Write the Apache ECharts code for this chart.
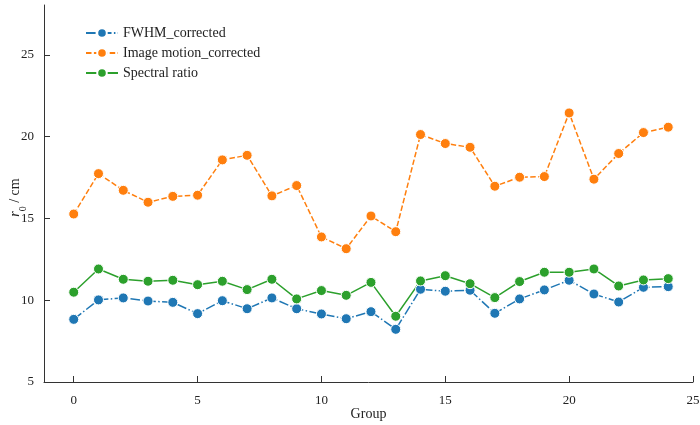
<!DOCTYPE html>
<html><head><meta charset="utf-8">
<script src="https://cdn.jsdelivr.net/npm/echarts@6/dist/echarts.min.js"></script>
<style>html,body{margin:0;padding:0;background:#fff}#c{width:700px;height:425px}</style>
</head><body><div id="c"></div>
<script>
var groups = [0,1,2,3,4,5,6,7,8,9,10,11,12,13,14,15,16,17,18,19,20,21,22,23,24];
var fwhm = [8.83,10.02,10.14,9.95,9.87,9.18,9.97,9.48,10.14,9.48,9.16,8.87,9.30,8.22,10.67,10.55,10.61,9.20,10.08,10.63,11.22,10.38,9.89,10.79,10.83];
var imageMotion = [15.27,17.74,16.72,15.99,16.35,16.42,18.58,18.86,16.38,17.01,13.87,13.15,15.15,14.19,20.13,19.58,19.35,16.97,17.52,17.56,21.45,17.40,18.97,20.25,20.58];
var spectral = [10.49,11.91,11.28,11.16,11.22,10.95,11.16,10.65,11.28,10.08,10.59,10.30,11.09,9.02,11.18,11.50,11.01,10.16,11.14,11.71,11.71,11.91,10.87,11.24,11.32];
var xTicks = [0,5,10,15,20,25];
var yTicks = [5,10,15,20,25];

function pairs(v){ return groups.map(function(g,i){ return [g, v[i]]; }); }
var font = 'Liberation Serif';
var chart = echarts.init(document.getElementById('c'));
function mk(name, data, color, dash){
  return {
    name: name, type: 'line', data: pairs(data), symbol: 'circle', symbolSize: 10,
    itemStyle: {color: color, borderColor: '#fff', borderWidth: 1},
    lineStyle: {color: color, width: 1.5, type: dash},
    emphasis: {disabled: true}, animation: false
  };
}
chart.setOption({
  animation: false,
  textStyle: {fontFamily: font},
  grid: {left: 44, right: 7, top: 5, bottom: 43, containLabel: false, outerBoundsMode: 'none'},
  legend: {
    orient: 'vertical', left: 80, top: 21, itemGap: 6, itemWidth: 32, itemHeight: 12,
    textStyle: {fontFamily: font, fontSize: 14, color: '#222'},
    data: ['FWHM_corrected','Image motion_corrected','Spectral ratio']
  },
  xAxis: {
    type: 'value', min: -1.2, max: 25.0,
    name: 'Group', nameLocation: 'middle', nameGap: 25, nameMoveOverlap: false,
    nameTextStyle: {fontFamily: font, fontSize: 14, color: '#222'},
    axisLine: {show: true, onZero: false, lineStyle: {color: '#333', width: 1}},
    axisTick: {show: true, inside: true, length: 6, customValues: xTicks, lineStyle: {color: '#333'}},
    axisLabel: {fontFamily: font, fontSize: 13, color: '#222', margin: 12, customValues: xTicks},
    splitLine: {show: false}
  },
  yAxis: {
    type: 'value', min: 5, max: 28.05,
    name: '{i|r}{s|0}{n| / cm}', nameLocation: 'middle', nameGap: 22, nameRotate: 90, nameMoveOverlap: false,
    nameTextStyle: {fontFamily: font, fontSize: 14, color: '#222', padding: [0,8,0,0],
      rich: {i: {fontStyle: 'italic', fontFamily: font, fontSize: 14, color: '#222'},
             s: {fontFamily: font, fontSize: 10, color: '#222', verticalAlign: 'bottom', padding: [0,0,-6,0]},
             n: {fontFamily: font, fontSize: 14, color: '#222'}}},
    axisLine: {show: true, onZero: false, lineStyle: {color: '#333', width: 1}},
    axisTick: {show: true, inside: true, length: 6, customValues: yTicks, lineStyle: {color: '#333'}},
    axisLabel: {fontFamily: font, fontSize: 13, color: '#222', margin: 10, customValues: yTicks},
    splitLine: {show: false}
  },
  series: [
    mk('FWHM_corrected', fwhm, '#1f77b4', [9.6,2.4,1.5,2.4]),
    mk('Image motion_corrected', imageMotion, '#ff7f0e', [5.5,2.4]),
    mk('Spectral ratio', spectral, '#2ca02c', 'solid')
  ]
});
</script></body></html>
